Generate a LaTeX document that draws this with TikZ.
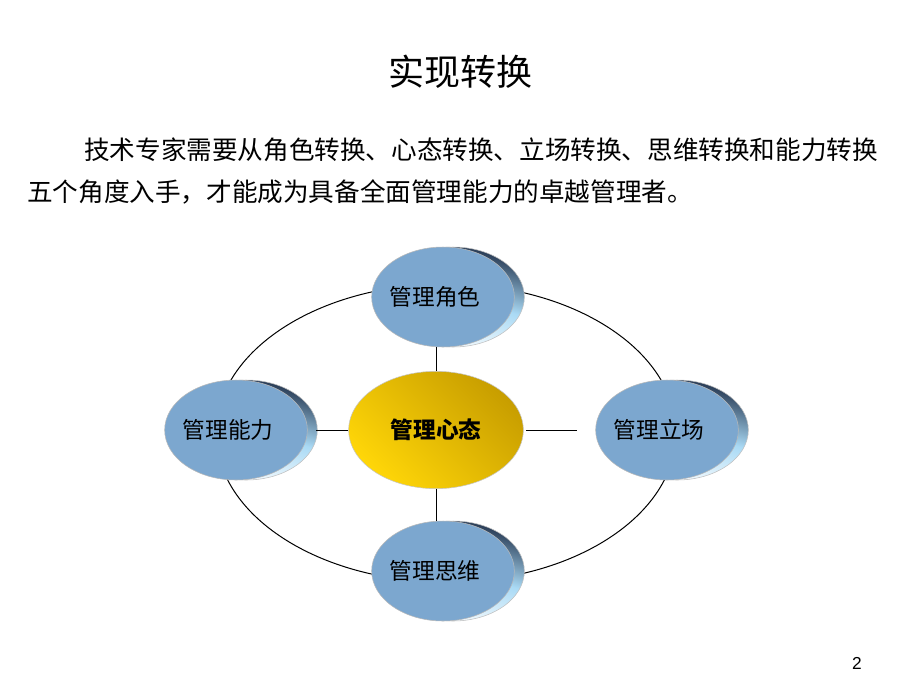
\documentclass[tikz,border=0pt]{standalone}
\usepackage{fontspec}
\setmainfont{Noto Sans CJK SC}
\newfontfamily\latinfont{Liberation Sans}
\usepackage{tikz}
\usetikzlibrary{shapes.geometric,backgrounds}

\definecolor{roleblue}{RGB}{124,167,207}
\definecolor{rimdark}{RGB}{36,54,80}
\definecolor{rimlight}{RGB}{170,218,245}
\definecolor{golddark}{RGB}{200,158,0}
\definecolor{goldlight}{RGB}{255,214,8}

\begin{document}
\begin{tikzpicture}[x=0.75pt,y=0.75pt,yscale=-1,xscale=1,
    rolenode/.style={ellipse, minimum width=107pt, minimum height=75pt, inner sep=0pt,
        fill=roleblue, draw=gray!55, line width=0.4pt,
        font=\fontsize{17pt}{20pt}\selectfont,
        execute at begin node={\hspace*{-12pt}}},
    rimnode/.style={ellipse, minimum width=107pt, minimum height=75pt, inner sep=0pt,
        draw=gray!50, line width=0.4pt, top color=rimdark, bottom color=white,
        middle color=rimlight, shading angle=-15},
    corenode/.style={ellipse, minimum width=131pt, minimum height=88pt, inner sep=0pt,
        draw=gray!45, line width=0.4pt, top color=golddark, bottom color=goldlight, shading angle=-45,
        font=\bfseries\fontsize{17pt}{20pt}\selectfont},
    link/.style={draw=black, line width=0.75pt}]
    \useasboundingbox (0,0) rectangle (920,690);

    % Text Node
    \node [inner sep=0pt, font=\fontsize{27pt}{30pt}\selectfont] (title) at (460,72) {实现转换};
    % Text Node
    \node [anchor=west, inner sep=0pt, font=\fontsize{19.2pt}{24pt}\selectfont] (lineone) at (84,150) {技术专家需要从角色转换、心态转换、立场转换、思维转换和能力转换};
    % Text Node
    \node [anchor=west, inner sep=0pt, font=\fontsize{19.2pt}{24pt}\selectfont] (linetwo) at (27,192) {五个角度入手，才能成为具备全面管理能力的卓越管理者。};

    %Shape: Ellipse nodes
    \node [rolenode] (role) at (443,297) {管理角色};
    \node [rolenode] (ability) at (236,430) {管理能力};
    \node [rolenode] (stance) at (667,430) {管理立场};
    \node [rolenode] (thinking) at (443,571) {管理思维};
    \node [corenode] (mindset) at (436,430) {管理心态};

    \begin{scope}[on background layer]
        %Shape: Ellipse [outer ring]
        \draw [link] (446,433) ellipse [x radius=230, y radius=149];
        %Shape: rims behind the blue ellipses
        \foreach \n in {role,ability,stance,thinking}
            \node [rimnode] (\n rim) at ([xshift=7.5pt]\n.center) {};
    \end{scope}

    %Straight Lines
    \draw [link] (mindset.north) -- (mindset.north |- role.south);
    \draw [link] (mindset.south) -- (mindset.south |- thinking.north);
    \draw [link, shorten >=6pt] (mindset.west) -- (ability.east);
    \draw [link, shorten <=2pt, shorten >=14pt] (mindset.east) -- (stance.west);

    % Text Node
    \node [inner sep=0pt, font=\latinfont\fontsize{13pt}{15pt}\selectfont] (pagenum) at (857,663) {2};
\end{tikzpicture}
\end{document}
